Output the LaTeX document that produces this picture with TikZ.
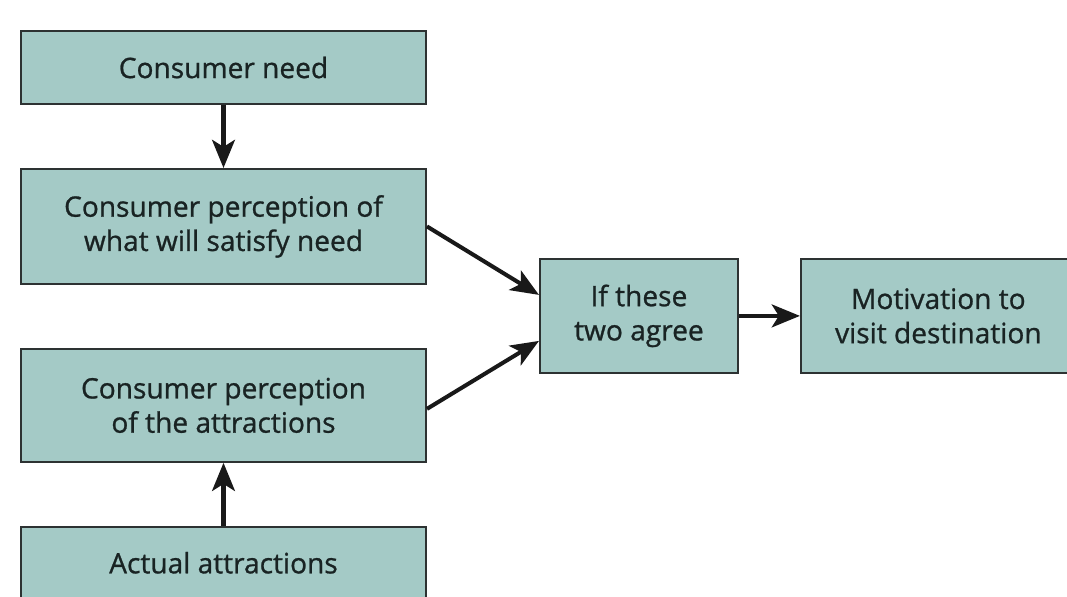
\documentclass[tikz,border=0pt]{standalone}
\usepackage{fontspec}
\setsansfont[FakeBold=0.9]{Open Sans}
\usepackage{tikz}
\usetikzlibrary{positioning, arrows.meta, calc}

\definecolor{boxfill}{RGB}{164,202,198}
\definecolor{boxline}{RGB}{45,50,50}
\definecolor{ink}{RGB}{25,35,35}

\begin{document}
\begin{tikzpicture}[
  font=\sffamily\fontsize{16}{19.5}\selectfont,
  box/.style={draw=boxline, line width=1.1pt, fill=boxfill, text=ink,
    minimum width=8.1cm, align=center, inner sep=0pt},
  smallbox/.style={box, minimum width=3.96cm, minimum height=2.28cm},
  arrow/.style={-{Stealth[length=16pt, width=13pt, inset=4pt]},
    line width=2.3pt, draw=black!90},
]
  \useasboundingbox (0,0) rectangle (21.34,-11.92);
  \clip (0,0) rectangle (21.34,-11.92);

  % left column
  \node[box, minimum height=1.46cm] (need) at (4.47,-1.35) {Consumer need};
  \node[box, minimum height=2.3cm, below=1.26cm of need] (pw)
    {Consumer perception of\\what will satisfy need};
  \node[box, minimum height=2.26cm, below=1.26cm of pw] (pa)
    {Consumer perception\\of the attractions};
  \node[box, minimum height=1.44cm, below=1.26cm of pa] (act)
    {Actual attractions};

  % right part
  \node[smallbox, right=2.24cm of {$(pw.east)!0.5!(pa.east)$}] (agree)
    {If these\\two agree};
  \node[smallbox, minimum width=5.5cm, right=1.22cm of agree] (motiv)
    {Motivation to\\visit destination};

  \draw[arrow] (need) -- (pw);
  \draw[arrow] (act) -- (pa);
  \draw[arrow] (pw.east) -- ([yshift=0.42cm]agree.west);
  \draw[arrow] ([yshift=-0.07cm]pa.east) -- ([yshift=-0.5cm]agree.west);
  \draw[arrow] (agree) -- (motiv);
\end{tikzpicture}
\end{document}
